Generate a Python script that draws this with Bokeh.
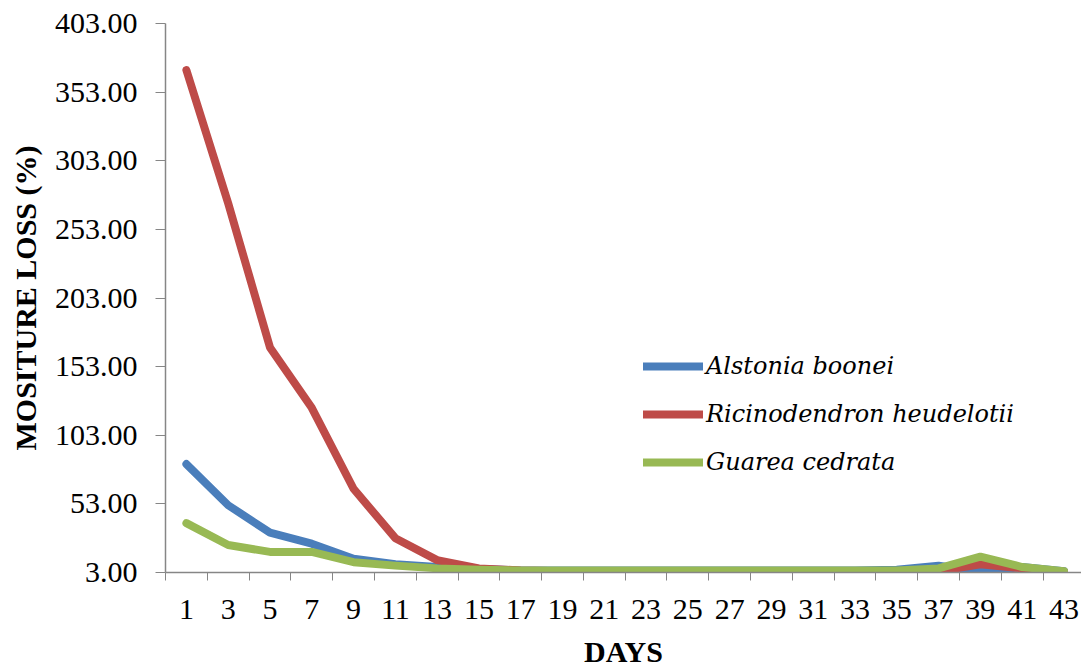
from bokeh.plotting import figure
from bokeh.models import FixedTicker, CustomJSTickFormatter, Range1d, Legend, LegendItem, NumeralTickFormatter
from bokeh.embed import file_html
from bokeh.resources import INLINE

days = [1, 3, 5, 7, 9, 11, 13, 15, 17, 19, 21, 23, 25, 27, 29, 31, 33, 35, 37, 39, 41, 43]
alstonia = [82, 52, 32, 24, 13, 9, 7, 5.5, 4.5, 4.5, 4.5, 4.5, 4.5, 4.5, 4.5, 4.5, 4.5, 5, 8, 3.5, 7, 4]
ricinodendron = [369, 272, 167, 123, 64, 28, 12, 6, 4.5, 4, 4, 4, 4, 4, 4, 4, 4, 4, 4, 9, 6, 3.5]
guarea = [39, 23, 18, 18, 10.5, 8, 6, 5, 4.5, 4.5, 4.5, 4.5, 4.5, 4.5, 4.5, 4.5, 4.5, 4.5, 6, 14.5, 7, 4]
y_ticks = [3, 53, 103, 153, 203, 253, 303, 353, 403]
series_names = ["Alstonia boonei", "Ricinodendron heudelotii", "Guarea cedrata"]
colors = ["#4A7EBB", "#BE4B48", "#98B954"]

idx = list(range(len(days)))

p = figure(width=1081, height=670, output_backend="svg", toolbar_location=None,
           x_range=Range1d(-0.5, 21.42), y_range=Range1d(3, 403),
           min_border_left=165, min_border_right=0, min_border_top=23, min_border_bottom=98)
p.outline_line_color = None
p.xgrid.visible = False
p.ygrid.visible = False
p.background_fill_color = "white"
p.border_fill_color = "white"

renderers = []
for vals, c in zip([alstonia, ricinodendron, guarea], colors):
    r = p.line(idx, vals, line_color=c, line_width=8, line_join="round", line_cap="round")
    renderers.append(r)

axis_color = "#868686"
font = "Liberation Serif"

# x axis
p.xaxis.ticker = FixedTicker(ticks=idx, minor_ticks=[i - 0.5 for i in range(len(days) + 1)])
labels_js = "const d = %s; return String(d[Math.round(tick)]);" % str(days)
p.xaxis.formatter = CustomJSTickFormatter(code=labels_js)
p.xaxis.major_tick_out = 0
p.xaxis.major_tick_in = 0
p.xaxis.minor_tick_out = 8
p.xaxis.minor_tick_in = 0
p.xaxis.minor_tick_line_color = axis_color
p.xaxis.axis_line_color = axis_color
p.xaxis.axis_line_width = 1.5
p.xaxis.major_label_text_font = font
p.xaxis.major_label_text_font_size = "30px"
p.xaxis.major_label_text_color = "black"
p.xaxis.major_label_standoff = 19
p.xaxis.axis_label = "DAYS"
p.xaxis.axis_label_text_font = font
p.xaxis.axis_label_text_font_style = "bold"
p.xaxis.axis_label_text_font_size = "30px"
p.xaxis.axis_label_text_color = "black"
p.xaxis.axis_label_standoff = 13

# y axis
p.yaxis.ticker = FixedTicker(ticks=y_ticks, minor_ticks=[])
p.yaxis.formatter = NumeralTickFormatter(format="0.00")
p.yaxis.major_tick_out = 10
p.yaxis.major_tick_in = 0
p.yaxis.major_tick_line_color = axis_color
p.yaxis.axis_line_color = axis_color
p.yaxis.axis_line_width = 1.5
p.yaxis.major_label_text_font = font
p.yaxis.major_label_text_font_size = "30px"
p.yaxis.major_label_text_color = "black"
p.yaxis.major_label_standoff = 18
p.yaxis.axis_label = "MOSITURE LOSS (%)"
p.yaxis.axis_label_text_font = font
p.yaxis.axis_label_text_font_style = "bold"
p.yaxis.axis_label_text_font_size = "30px"
p.yaxis.axis_label_text_color = "black"
p.yaxis.axis_label_standoff = 10

legend = Legend(items=[LegendItem(label=n, renderers=[r]) for n, r in zip(series_names, renderers)],
                location=(478, 86), orientation="vertical")
legend.label_text_font = "DejaVu Serif"
legend.label_text_font_style = "italic"
legend.label_text_font_size = "24px"
legend.label_text_color = "black"
legend.glyph_width = 60
legend.glyph_height = 48
legend.label_height = 48
legend.label_standoff = 3
legend.spacing = 0
legend.padding = 0
legend.margin = 0
legend.border_line_color = None
legend.background_fill_alpha = 0
p.add_layout(legend, "center")

open("out.html", "w").write(file_html(p, INLINE))
